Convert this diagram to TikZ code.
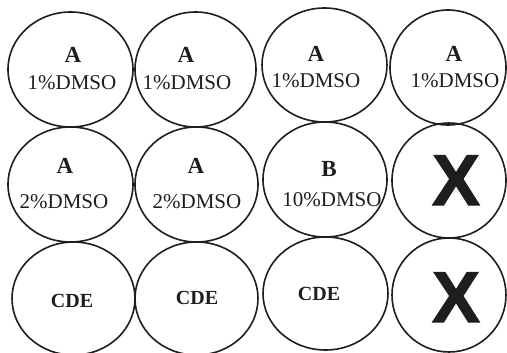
\documentclass[tikz,border=0pt]{standalone}
\usepackage{fontspec}
\setmainfont{Liberation Serif}
\newfontfamily\xfont[BoldFeatures={FakeBold=1.5}]{Liberation Sans}
\usetikzlibrary{shapes.geometric}
\definecolor{ink}{HTML}{1E1E1E}
\tikzset{
  well/.style={ellipse, draw=ink, line width=1.6pt, inner sep=0pt},
  letter/.style={anchor=base, text=ink, inner sep=0pt, font=\fontsize{23}{23}\selectfont\bfseries},
  conc/.style={anchor=base, text=ink, inner sep=0pt, font=\fontsize{21}{21}\selectfont},
  cde/.style={anchor=base, text=ink, inner sep=0pt, font=\fontsize{20}{20}\selectfont\bfseries},
  cross/.style={anchor=base, text=ink, inner sep=0pt, font=\xfont\fontsize{72}{72}\selectfont\bfseries},
}
\begin{document}
\begin{tikzpicture}[x=1pt, y=-1pt]
\useasboundingbox[fill=white] (0,0) rectangle (507,353);
% row 1
\node[well, minimum width=125pt, minimum height=115pt] (w11) at (70.5,69.5) {};
\node[well, minimum width=121pt, minimum height=115pt] (w12) at (195.5,69.5) {};
\node[well, minimum width=125pt, minimum height=114pt] (w13) at (324.5,65) {};
\node[well, minimum width=116pt, minimum height=115pt] (w14) at (448,67.5) {};
% row 2
\node[well, minimum width=125pt, minimum height=115pt] (w21) at (70.5,184.5) {};
\node[well, minimum width=123pt, minimum height=115pt] (w22) at (196.5,184.5) {};
\node[well, minimum width=124pt, minimum height=115pt] (w23) at (325,179.5) {};
\node[well, minimum width=114pt, minimum height=115pt] (w24) at (449,180.5) {};
% row 3
\node[well, minimum width=123pt, minimum height=113pt] (w31) at (73.5,298.5) {};
\node[well, minimum width=123pt, minimum height=113pt] (w32) at (196.5,298.5) {};
\node[well, minimum width=125pt, minimum height=113pt] (w33) at (325.5,293.5) {};
\node[well, minimum width=114pt, minimum height=114pt] (w34) at (449,295) {};
% labels row 1
\node[letter] (a11) at (73,63) {A};
\node[conc] (c11) at (72,90) {1\%DMSO};
\node[letter] (a12) at (186,63) {A};
\node[conc] (c12) at (187,90) {1\%DMSO};
\node[letter] (a13) at (316,62) {A};
\node[conc] (c13) at (316,88) {1\%DMSO};
\node[letter] (a14) at (454,62) {A};
\node[conc] (c14) at (455,88) {1\%DMSO};
% labels row 2
\node[letter] (a21) at (65,174) {A};
\node[conc] (c21) at (64,208) {2\%DMSO};
\node[letter] (a22) at (196,174) {A};
\node[conc] (c22) at (197,208) {2\%DMSO};
\node[letter] (b23) at (329,177) {B};
\node[conc] (c23) at (332,207) {10\%DMSO};
\node[cross] (x24) at (456,205) {X};
% labels row 3
\node[cde] (d31) at (72,307) {CDE};
\node[cde] (d32) at (197,305) {CDE};
\node[cde] (d33) at (319,300) {CDE};
\node[cross] (x34) at (456,322) {X};
\end{tikzpicture}
\end{document}
